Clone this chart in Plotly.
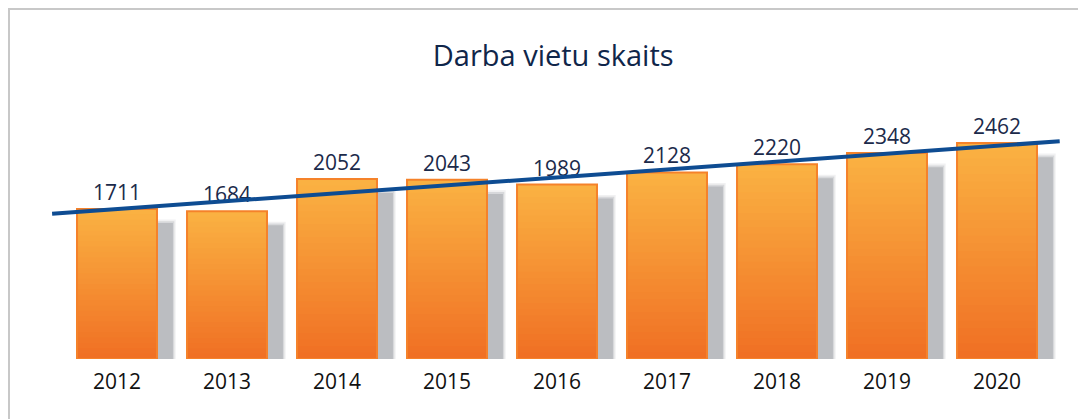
import numpy as np
import plotly.graph_objects as go

## data
years = ["2012", "2013", "2014", "2015", "2016", "2017", "2018", "2019", "2020"]
jobs = [1711, 1684, 2052, 2043, 1989, 2128, 2220, 2348, 2462]
title_text = "Darba vietu skaits"

x = np.arange(len(years))
vals = np.array(jobs, dtype=float)

BAR_W = 0.727
TOP_CLR = (250, 177, 66)
BOT_CLR = (240, 112, 36)

fig = go.Figure()

## soft grey shadow behind the bars (offset down/right)
shadow_drop = 160
for w_extra, alpha in [(0.05, 0.2), (0.025, 0.45), (0.0, 0.9)]:
    fig.add_trace(go.Bar(
        x=x, y=vals - shadow_drop + w_extra * 800, base=0,
        width=BAR_W + w_extra, offset=-BAR_W / 2 + 0.145 - w_extra / 2,
        marker=dict(color=f"rgba(184,186,190,{alpha})", line=dict(width=0)),
        hoverinfo="skip", showlegend=False))

## gradient fill, stacked layers from light top to dark bottom
n_steps = 28
for k in range(n_steps):
    frac = 1 - k / n_steps
    t = k / (n_steps - 1)
    c = tuple(int(round(TOP_CLR[i] + (BOT_CLR[i] - TOP_CLR[i]) * t)) for i in range(3))
    fig.add_trace(go.Bar(
        x=x, y=vals * frac, width=BAR_W, offset=-BAR_W / 2,
        marker=dict(color="rgb(%d,%d,%d)" % c, line=dict(width=0)),
        hoverinfo="skip", showlegend=False))

## outline + value labels
fig.add_trace(go.Bar(
    x=x, y=vals, width=BAR_W, offset=-BAR_W / 2,
    marker=dict(color="rgba(0,0,0,0)", line=dict(color="#F5822A", width=2)),
    text=[str(v) for v in jobs], textposition="outside", cliponaxis=False,
    textfont=dict(family="Open Sans", size=21, color="#1B2A4A"),
    showlegend=False))

## linear trendline
slope, icpt = np.polyfit(x, vals, 1)
tx = np.array([-0.59, 8.57])
fig.add_trace(go.Scatter(
    x=tx, y=slope * tx + icpt, mode="lines",
    line=dict(color="#0E4C92", width=4), hoverinfo="skip", showlegend=False))

## chart frame
fig.add_shape(type="rect", xref="paper", yref="paper",
              x0=-0.0415, x1=1.2, y0=-0.6, y1=1.535,
              line=dict(color="#C8C8C8", width=2), fillcolor="rgba(0,0,0,0)")

fig.update_layout(
    width=1086, height=419,
    margin=dict(l=43, r=31, t=123, b=68),
    barmode="overlay",
    plot_bgcolor="white", paper_bgcolor="white",
    title=dict(text=title_text, x=0.502, xanchor="center", y=0.885, yanchor="middle",
               font=dict(family="Open Sans", size=29, color="#10264A")),
    xaxis=dict(range=[-0.6, 8.6], tickvals=list(x), ticktext=years,
               showgrid=False, zeroline=False, showline=False, ticks="",
               ticklabelstandoff=8,
               tickfont=dict(family="Open Sans", size=21, color="#111111")),
    yaxis=dict(range=[0, 2600], visible=False, showgrid=False, zeroline=False),
)

fig.write_html("out.html")
